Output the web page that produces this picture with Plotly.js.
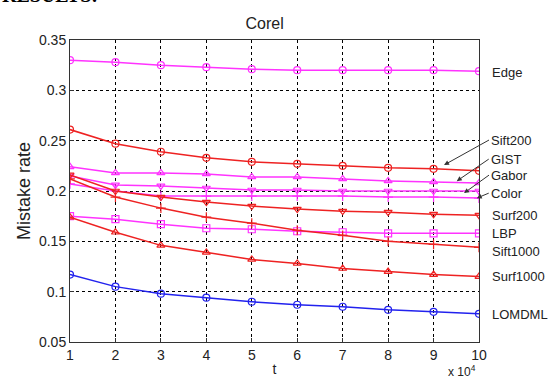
<!DOCTYPE html>
<html>
<head>
<meta charset="utf-8">
<script src="https://cdn.plot.ly/plotly-3.0.1.min.js"></script>
<style>html,body{margin:0;padding:0;background:#fff;}#chart{width:550px;height:381px;}</style>
</head>
<body>
<div id="chart"></div>
<script>
const t = [1, 2, 3, 4, 5, 6, 7, 8, 9, 10];
const edge     = [0.330, 0.328, 0.325, 0.323, 0.321, 0.320, 0.320, 0.320, 0.320, 0.319];
const sift200  = [0.261, 0.247, 0.239, 0.233, 0.229, 0.227, 0.225, 0.223, 0.222, 0.220];
const gist     = [0.224, 0.218, 0.218, 0.217, 0.214, 0.214, 0.212, 0.210, 0.209, 0.208];
const gabor    = [0.215, 0.206, 0.205, 0.203, 0.201, 0.201, 0.200, 0.200, 0.200, 0.200];
const color    = [0.207, 0.200, 0.195, 0.195, 0.195, 0.195, 0.195, 0.194, 0.194, 0.193];
const surf200  = [0.216, 0.200, 0.194, 0.189, 0.185, 0.182, 0.180, 0.179, 0.177, 0.176];
const lbp      = [0.175, 0.172, 0.167, 0.163, 0.162, 0.160, 0.159, 0.158, 0.158, 0.158];
const sift1000 = [0.212, 0.194, 0.183, 0.174, 0.168, 0.161, 0.156, 0.150, 0.147, 0.144];
const surf1000 = [0.174, 0.159, 0.146, 0.139, 0.132, 0.128, 0.123, 0.120, 0.117, 0.115];
const lomdml   = [0.117, 0.105, 0.098, 0.094, 0.090, 0.087, 0.085, 0.082, 0.080, 0.078];

const MAG = '#ff33ff', RED = '#ee2222', BLUE = '#2222ee';
function tr(y, col, sym, name) {
  return {x: t, y: y, name: name, type: 'scatter', mode: 'lines+markers',
    line: {color: col, width: 1.5},
    marker: {symbol: sym, size: 7, color: col, line: {color: col, width: 1.2}}};
}
const data = [
  tr(edge, MAG, 'circle-open', 'Edge'),
  tr(sift200, RED, 'circle-open', 'Sift200'),
  tr(gist, MAG, 'triangle-up-open', 'GIST'),
  tr(gabor, MAG, 'triangle-down-open', 'Gabor'),
  tr(color, MAG, 'cross-thin-open', 'Color'),
  tr(surf200, RED, 'triangle-down-open', 'Surf200'),
  tr(lbp, MAG, 'square-open', 'LBP'),
  tr(sift1000, RED, 'cross-thin-open', 'Sift1000'),
  tr(surf1000, RED, 'triangle-up-open', 'Surf1000'),
  tr(lomdml, BLUE, 'circle-open', 'LOMDML')
];

const lf = {family: 'Liberation Sans, Arial, sans-serif', size: 13, color: '#222'};
function lab(text, y) {
  return {xref: 'paper', yref: 'y', x: 1.026, y: y, text: text, showarrow: false,
    xanchor: 'left', yanchor: 'middle', font: lf};
}
function arr(text, hx, hy, ax, ay) {
  return {xref: 'x', yref: 'y', x: hx, y: hy, text: text, showarrow: true,
    ax: ax, ay: ay, axref: 'pixel', ayref: 'pixel', xanchor: 'left', yanchor: 'middle',
    arrowhead: 2, arrowsize: 1, arrowwidth: 1, arrowcolor: '#333', standoff: 0, font: lf};
}

const layout = {
  width: 550, height: 381,
  margin: {l: 70, r: 71, t: 40, b: 39},
  paper_bgcolor: '#fff', plot_bgcolor: '#fff',
  showlegend: false,
  font: {family: 'Liberation Sans, Arial, sans-serif', color: '#222'},
  title: {text: 'Corel', x: 0.476, xref: 'paper', y: 0.953, yref: 'container', xanchor: 'center',
    font: {size: 16, color: '#222'}},
  xaxis: {range: [1, 10], dtick: 1, showgrid: true, gridcolor: '#000', griddash: 'dot', gridwidth: 1,
    zeroline: false, showline: true, mirror: true, linecolor: '#333', linewidth: 1,
    ticks: 'inside', ticklen: 4, tickcolor: '#333', tickfont: {size: 14, color: '#222'},
    title: {text: 't', font: {size: 14, color: '#222'}, standoff: 2}},
  yaxis: {range: [0.05, 0.35], dtick: 0.05, showgrid: true, gridcolor: '#000', griddash: 'dot', gridwidth: 1,
    zeroline: false, showline: true, mirror: true, linecolor: '#333', linewidth: 1,
    ticks: 'inside', ticklen: 4, tickcolor: '#333', tickfont: {size: 14, color: '#222'},
    title: {text: 'Mistake rate', font: {size: 18, color: '#222'}, standoff: 3}},
  annotations: [
    lab('Edge', 0.3175),
    arr('Sift200', 9.23, 0.2258, 45, -25),
    arr('GIST', 9.51, 0.2098, 32, -22),
    arr('Gabor', 9.67, 0.1979, 25, -18),
    arr('Color', 9.95, 0.1929, 12, -5),
    lab('Surf200', 0.176),
    lab('LBP', 0.1579),
    lab('Sift1000', 0.1396),
    lab('Surf1000', 0.1147),
    lab('LOMDML', 0.0776),
    {xref: 'paper', yref: 'paper', x: 0.997, y: -0.128, xanchor: 'right', yanchor: 'bottom',
      text: 'x 10<sup>4</sup>', showarrow: false, font: {size: 12, color: '#222'}},
    {xref: 'paper', yref: 'paper', x: -0.172, y: 1.105, xanchor: 'left', yanchor: 'bottom',
      text: '<b>RESULTS:</b>', showarrow: false, font: {family: 'Liberation Serif, Times New Roman, serif', size: 20, color: '#000'}}
  ]
};
Plotly.newPlot('chart', data, layout, {staticPlot: true, displayModeBar: false});
</script>
</body>
</html>
